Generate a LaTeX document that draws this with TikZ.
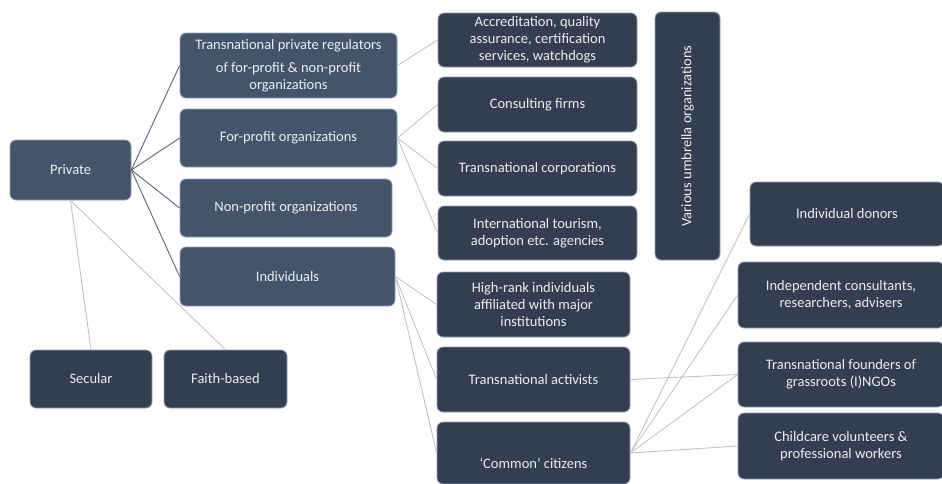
\documentclass[tikz,border=0pt]{standalone}
\usepackage{fontspec}
\setmainfont{Carlito}
\definecolor{slatelight}{HTML}{44546A}
\definecolor{slatedark}{HTML}{333F50}
\definecolor{boxedge}{HTML}{8FA2BC}
\definecolor{linedark}{HTML}{596579}
\definecolor{linelight}{HTML}{BFC3C8}
\definecolor{boxtext}{HTML}{EDEDED}
\begin{document}
\begin{tikzpicture}[x=1pt,y=-1pt]
	\tikzstyle{every node}=[font=\fontsize{14.5}{17}\selectfont,text=boxtext,align=center]
	\tikzstyle{upper}=[draw=boxedge,fill=slatelight,rounded corners=6pt,line width=0.8pt,inner sep=2pt]
	\tikzstyle{lower}=[upper,fill=slatedark]
	\tikzstyle{trunk}=[linedark,line width=0.9pt]
	\tikzstyle{twig}=[linelight,line width=0.9pt]
	\useasboundingbox (0,0) rectangle (942,483);
	% first level
	\node [upper,minimum width=121,minimum height=60] (private) at (70.5,170) {Private};
	\node [upper,minimum width=217,minimum height=65] (regulators) at (288.5,65.5) {Transnational private regulators\\[6pt]of for-profit \& non-profit\\organizations};
	\node [upper,minimum width=217,minimum height=58] (forprofit) at (288.5,138) {For-profit organizations};
	\node [upper,minimum width=212,minimum height=58] (nonprofit) at (286,208) {Non-profit organizations};
	\node [upper,minimum width=215,minimum height=59] (individuals) at (287.5,276.5) {Individuals};
	\node [lower,minimum width=122,minimum height=58] (secular) at (91,379) {Secular};
	\node [lower,minimum width=123,minimum height=58] (faith) at (225.5,379) {Faith-based};
	% second level
	\node [lower,minimum width=199,minimum height=54] (accreditation) at (537.5,40) {Accreditation, quality\\assurance, certification\\services, watchdogs};
	\node [lower,minimum width=199,minimum height=55] (consulting) at (537.5,104.5) {Consulting firms};
	\node [lower,minimum width=199,minimum height=55] (corporations) at (537.5,168.5) {Transnational corporations};
	\node [lower,minimum width=199,minimum height=54] (tourism) at (537.5,233) {International tourism,\\adoption etc. agencies};
	\node [lower,rotate=90,minimum width=248,minimum height=65] (umbrella) at (687.5,136) {Various umbrella organizations};
	\node [lower,minimum width=193,minimum height=65] (highrank) at (533.5,304.5) {High-rank individuals\\affiliated with major\\institutions};
	\node [lower,minimum width=193,minimum height=65] (activists) at (533.5,379.5) {Transnational activists};
	\node [lower,minimum width=193,minimum height=62,text height=30pt,text depth=0pt] (citizens) at (533.5,453) {‘Common’ citizens};
	% third level
	\node [lower,minimum width=194,minimum height=64] (donors) at (847,214) {Individual donors};
	\node [lower,minimum width=206,minimum height=66] (consultants) at (841,295) {Independent consultants,\\researchers, advisers};
	\node [lower,minimum width=206,minimum height=65] (founders) at (841,374.5) {Transnational founders of\\grassroots (I)NGOs};
	\node [lower,minimum width=206,minimum height=66] (childcare) at (841,446) {Childcare volunteers \&\\professional workers};
	% connectors
	\draw [trunk] (private.east) -- (regulators.west);
	\draw [trunk] (private.east) -- (forprofit.west);
	\draw [trunk] (private.east) -- (nonprofit.west);
	\draw [trunk] (private.east) -- (individuals.west);
	\draw [twig] (private.south) -- (secular.north);
	\draw [twig] (private.south) -- (faith.north);
	\draw [twig] (regulators.east) -- (accreditation.west);
	\draw [twig] (forprofit.east) -- (consulting.west);
	\draw [twig] (forprofit.east) -- (corporations.west);
	\draw [twig] (forprofit.east) -- (tourism.west);
	\draw [twig] (individuals.east) -- (highrank.west);
	\draw [twig] (individuals.east) -- (activists.west);
	\draw [twig] (individuals.east) -- (citizens.west);
	\draw [twig] (activists.east) -- (founders.west);
	\draw [twig] (citizens.east) -- (donors.west);
	\draw [twig] (citizens.east) -- (consultants.west);
	\draw [twig] (citizens.east) -- (founders.west);
	\draw [twig] (citizens.east) -- (childcare.west);
\end{tikzpicture}
\end{document}
